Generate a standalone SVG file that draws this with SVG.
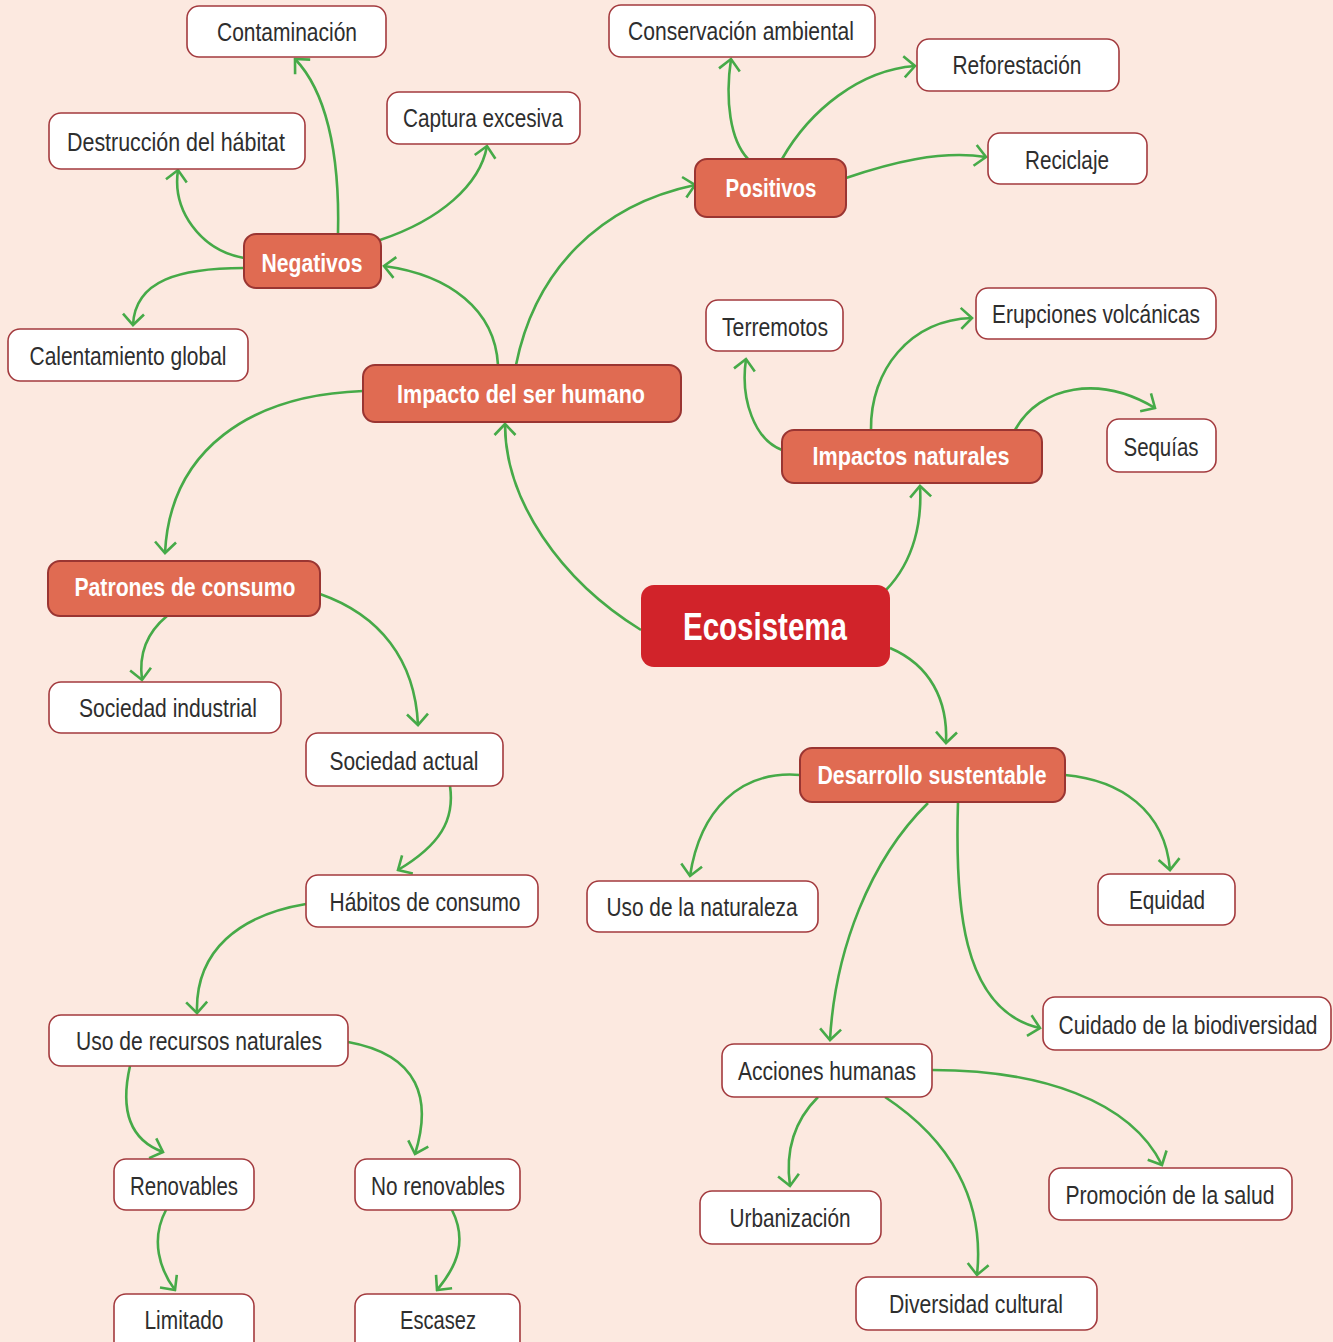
<svg xmlns="http://www.w3.org/2000/svg" width="1333" height="1342" viewBox="0 0 1333 1342">
<style>
.w rect{fill:#ffffff;stroke:#a33a3e;stroke-width:1.6}
.o rect{fill:#e06b52;stroke:#9a3532;stroke-width:2}
.c rect{fill:#d1232a}
text{font-family:"Liberation Sans",Arial,sans-serif;text-anchor:middle;dominant-baseline:central}
.w text{fill:#2e2e2e;font-size:26px}
.o text{fill:#ffffff;font-size:26px;font-weight:bold}
.c text{fill:#ffffff;font-size:38px;font-weight:bold}
#connectors path{fill:none;stroke:#46aa48;stroke-width:2.6}
</style>
<defs>
<marker id="ah" viewBox="-14 -13 16 26" markerWidth="16" markerHeight="26" refX="0" refY="0" orient="auto" markerUnits="userSpaceOnUse">
<path d="M-11,-10.5 L0,0 L-11,10.5" fill="none" stroke="#46aa48" stroke-width="2.6"/>
</marker>
</defs>
<rect width="1333" height="1342" fill="#fce9e0"/>
<g id="connectors">
<path d="M641,630 C560,580 505,500 505,424" marker-end="url(#ah)"/>
<path d="M886,590 C915,560 922,520 920,486" marker-end="url(#ah)"/>
<path d="M890,648 C930,665 948,700 946,743" marker-end="url(#ah)"/>
<path d="M498,365 C495,310 450,275 384,266" marker-end="url(#ah)"/>
<path d="M516,365 C535,270 600,205 695,185" marker-end="url(#ah)"/>
<path d="M363,391 C250,395 170,450 165,553" marker-end="url(#ah)"/>
<path d="M338,234 C340,150 325,90 295,59" marker-end="url(#ah)"/>
<path d="M244,258 C200,250 172,210 178,170" marker-end="url(#ah)"/>
<path d="M380,240 C440,220 480,185 487,146" marker-end="url(#ah)"/>
<path d="M244,268 C180,268 135,280 133,325" marker-end="url(#ah)"/>
<path d="M748,159 C730,140 725,100 731,59" marker-end="url(#ah)"/>
<path d="M782,159 C810,110 860,70 915,66" marker-end="url(#ah)"/>
<path d="M846,178 C890,163 940,150 986,157" marker-end="url(#ah)"/>
<path d="M782,450 C755,440 740,400 746,359" marker-end="url(#ah)"/>
<path d="M871,430 C870,370 910,320 972,318" marker-end="url(#ah)"/>
<path d="M1015,430 C1040,385 1100,375 1155,408" marker-end="url(#ah)"/>
<path d="M167,616 C150,630 138,650 142,680" marker-end="url(#ah)"/>
<path d="M320,594 C380,615 415,660 418,725" marker-end="url(#ah)"/>
<path d="M450,786 C455,820 440,845 398,870" marker-end="url(#ah)"/>
<path d="M306,904 C240,915 195,950 197,1013" marker-end="url(#ah)"/>
<path d="M130,1066 C120,1110 130,1140 163,1152" marker-end="url(#ah)"/>
<path d="M348,1042 C420,1055 432,1100 415,1154" marker-end="url(#ah)"/>
<path d="M166,1210 C150,1240 160,1270 175,1290" marker-end="url(#ah)"/>
<path d="M452,1210 C467,1240 458,1265 437,1290" marker-end="url(#ah)"/>
<path d="M800,775 C740,770 700,810 690,876" marker-end="url(#ah)"/>
<path d="M1065,775 C1120,780 1165,810 1170,870" marker-end="url(#ah)"/>
<path d="M958,802 C955,900 960,1010 1040,1028" marker-end="url(#ah)"/>
<path d="M928,803 C870,860 835,950 830,1040" marker-end="url(#ah)"/>
<path d="M932,1070 C1040,1070 1130,1100 1162,1165" marker-end="url(#ah)"/>
<path d="M818,1097 C795,1120 785,1150 790,1186" marker-end="url(#ah)"/>
<path d="M885,1097 C950,1140 985,1200 977,1275" marker-end="url(#ah)"/>
</g>
<g id="n-ecosistema" class="c"><rect x="641" y="585" width="249" height="82" rx="13"/><text x="765" y="627" textLength="164" lengthAdjust="spacingAndGlyphs">Ecosistema</text></g>
<g id="n-impacto" class="o"><rect x="363" y="365" width="318" height="57" rx="12"/><text x="521" y="394" textLength="248" lengthAdjust="spacingAndGlyphs">Impacto del ser humano</text></g>
<g id="n-negativos" class="o"><rect x="244" y="234" width="137" height="54" rx="12"/><text x="312" y="263" textLength="101" lengthAdjust="spacingAndGlyphs">Negativos</text></g>
<g id="n-positivos" class="o"><rect x="695" y="159" width="151" height="58" rx="12"/><text x="771" y="188" textLength="91" lengthAdjust="spacingAndGlyphs">Positivos</text></g>
<g id="n-naturales" class="o"><rect x="782" y="430" width="260" height="53" rx="12"/><text x="911" y="456" textLength="197" lengthAdjust="spacingAndGlyphs">Impactos naturales</text></g>
<g id="n-patrones" class="o"><rect x="48" y="561" width="272" height="55" rx="12"/><text x="185" y="587" textLength="221" lengthAdjust="spacingAndGlyphs">Patrones de consumo</text></g>
<g id="n-desarrollo" class="o"><rect x="800" y="748" width="265" height="54" rx="12"/><text x="932" y="775" textLength="229" lengthAdjust="spacingAndGlyphs">Desarrollo sustentable</text></g>
<g id="n-contaminacion" class="w"><rect x="187" y="6" width="199" height="51" rx="12"/><text x="287" y="32" textLength="140" lengthAdjust="spacingAndGlyphs">Contaminación</text></g>
<g id="n-destruccion" class="w"><rect x="49" y="113" width="256" height="56" rx="12"/><text x="176" y="142" textLength="218" lengthAdjust="spacingAndGlyphs">Destrucción del hábitat</text></g>
<g id="n-captura" class="w"><rect x="387" y="92" width="193" height="52" rx="12"/><text x="483" y="118" textLength="160" lengthAdjust="spacingAndGlyphs">Captura excesiva</text></g>
<g id="n-calentamiento" class="w"><rect x="8" y="329" width="240" height="52" rx="12"/><text x="128" y="356" textLength="197" lengthAdjust="spacingAndGlyphs">Calentamiento global</text></g>
<g id="n-conservacion" class="w"><rect x="609" y="5" width="266" height="52" rx="12"/><text x="741" y="31" textLength="226" lengthAdjust="spacingAndGlyphs">Conservación ambiental</text></g>
<g id="n-reforestacion" class="w"><rect x="917" y="39" width="202" height="52" rx="12"/><text x="1017" y="65" textLength="129" lengthAdjust="spacingAndGlyphs">Reforestación</text></g>
<g id="n-reciclaje" class="w"><rect x="988" y="133" width="159" height="51" rx="12"/><text x="1067" y="160" textLength="84" lengthAdjust="spacingAndGlyphs">Reciclaje</text></g>
<g id="n-terremotos" class="w"><rect x="706" y="300" width="137" height="51" rx="12"/><text x="775" y="327" textLength="106" lengthAdjust="spacingAndGlyphs">Terremotos</text></g>
<g id="n-erupciones" class="w"><rect x="976" y="288" width="240" height="51" rx="12"/><text x="1096" y="314" textLength="208" lengthAdjust="spacingAndGlyphs">Erupciones volcánicas</text></g>
<g id="n-sequias" class="w"><rect x="1107" y="419" width="109" height="53" rx="12"/><text x="1161" y="447" textLength="75" lengthAdjust="spacingAndGlyphs">Sequías</text></g>
<g id="n-industrial" class="w"><rect x="49" y="682" width="232" height="51" rx="12"/><text x="168" y="708" textLength="178" lengthAdjust="spacingAndGlyphs">Sociedad industrial</text></g>
<g id="n-actual" class="w"><rect x="306" y="733" width="197" height="53" rx="12"/><text x="404" y="761" textLength="149" lengthAdjust="spacingAndGlyphs">Sociedad actual</text></g>
<g id="n-habitos" class="w"><rect x="306" y="875" width="232" height="52" rx="12"/><text x="425" y="902" textLength="191" lengthAdjust="spacingAndGlyphs">Hábitos de consumo</text></g>
<g id="n-naturaleza" class="w"><rect x="587" y="881" width="231" height="51" rx="12"/><text x="702" y="907" textLength="191" lengthAdjust="spacingAndGlyphs">Uso de la naturaleza</text></g>
<g id="n-equidad" class="w"><rect x="1098" y="874" width="137" height="51" rx="12"/><text x="1167" y="900" textLength="76" lengthAdjust="spacingAndGlyphs">Equidad</text></g>
<g id="n-cuidado" class="w"><rect x="1043" y="997" width="288" height="53" rx="12"/><text x="1188" y="1025" textLength="259" lengthAdjust="spacingAndGlyphs">Cuidado de la biodiversidad</text></g>
<g id="n-recursos" class="w"><rect x="49" y="1015" width="299" height="51" rx="12"/><text x="199" y="1041" textLength="246" lengthAdjust="spacingAndGlyphs">Uso de recursos naturales</text></g>
<g id="n-acciones" class="w"><rect x="722" y="1044" width="210" height="53" rx="12"/><text x="827" y="1071" textLength="178" lengthAdjust="spacingAndGlyphs">Acciones humanas</text></g>
<g id="n-renovables" class="w"><rect x="114" y="1159" width="140" height="51" rx="12"/><text x="184" y="1186" textLength="108" lengthAdjust="spacingAndGlyphs">Renovables</text></g>
<g id="n-norenovables" class="w"><rect x="355" y="1159" width="165" height="51" rx="12"/><text x="438" y="1186" textLength="134" lengthAdjust="spacingAndGlyphs">No renovables</text></g>
<g id="n-promocion" class="w"><rect x="1049" y="1168" width="243" height="52" rx="12"/><text x="1170" y="1195" textLength="209" lengthAdjust="spacingAndGlyphs">Promoción de la salud</text></g>
<g id="n-urbanizacion" class="w"><rect x="700" y="1191" width="181" height="53" rx="12"/><text x="790" y="1218" textLength="121" lengthAdjust="spacingAndGlyphs">Urbanización</text></g>
<g id="n-diversidad" class="w"><rect x="856" y="1277" width="241" height="53" rx="12"/><text x="976" y="1304" textLength="174" lengthAdjust="spacingAndGlyphs">Diversidad cultural</text></g>
<g id="n-limitado" class="w"><rect x="114" y="1294" width="140" height="60" rx="12"/><text x="184" y="1320" textLength="79" lengthAdjust="spacingAndGlyphs">Limitado</text></g>
<g id="n-escasez" class="w"><rect x="355" y="1294" width="165" height="60" rx="12"/><text x="438" y="1320" textLength="76" lengthAdjust="spacingAndGlyphs">Escasez</text></g>
</svg>
